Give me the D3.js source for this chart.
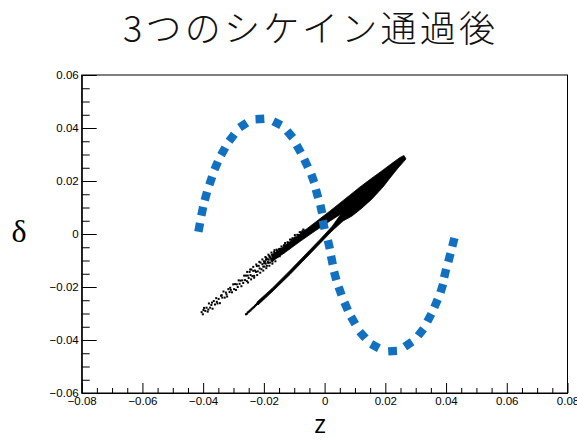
<!DOCTYPE html>
<html>
<head>
<meta charset="utf-8">
<script src="https://cdn.jsdelivr.net/npm/d3@7"></script>
<style>
  body { margin: 0; background: #fff; }
  svg { display: block; }
</style>
</head>
<body>
<svg id="chart" width="577" height="443"></svg>
<script>
// ---- chart data ----
const titleText = "3つのシケイン通過後";
const xLabelText = "z";
const yLabelText = "δ";

const xDomain = [-0.08, 0.08];
const yDomain = [-0.06, 0.06];
const xMajorTicks = [-0.08, -0.06, -0.04, -0.02, 0, 0.02, 0.04, 0.06, 0.08];
const yMajorTicks = [-0.06, -0.04, -0.02, 0, 0.02, 0.04, 0.06];
const xMinorTicks = [-0.075, -0.07, -0.065, -0.055, -0.05, -0.045, -0.035, -0.03, -0.025,
  -0.015, -0.01, -0.005, 0.005, 0.01, 0.015, 0.025, 0.03, 0.035, 0.045, 0.05, 0.055,
  0.065, 0.07, 0.075];
const yMinorTicks = [-0.055, -0.05, -0.045, -0.035, -0.03, -0.025, -0.015, -0.01, -0.005,
  0.005, 0.01, 0.015, 0.025, 0.03, 0.035, 0.045, 0.05, 0.055];

// reference wave (z, δ), one entry per blue marker
const waveMarkers = [
  [-0.0413, 0.0025], [-0.0403, 0.0086], [-0.0391, 0.0143], [-0.0375, 0.0201],
  [-0.0357, 0.0258], [-0.0334, 0.0312], [-0.0306, 0.0363], [-0.0268, 0.0411],
  [-0.0213, 0.0434], [-0.0156, 0.0418], [-0.0114, 0.0376], [-0.0085, 0.0321],
  [-0.0061, 0.0267], [-0.0039, 0.0210], [-0.0025, 0.0152], [-0.0011, 0.0094],
  [-0.0003, 0.0035], [0.0014, -0.0040], [0.0024, -0.0099], [0.0035, -0.0158],
  [0.0051, -0.0215], [0.0071, -0.0273], [0.0094, -0.0326], [0.0125, -0.0381],
  [0.0166, -0.0423], [0.0224, -0.0442], [0.0276, -0.0416], [0.0317, -0.0371],
  [0.0345, -0.0316], [0.0367, -0.0262], [0.0386, -0.0205], [0.0397, -0.0148],
  [0.0411, -0.0089], [0.0424, -0.0031]
];

// outline (z, δ) of the densely populated part of the bunch
const coreOutline = [
  // lower arm, upper edge
  [-0.02227, -0.02566], [-0.01733, -0.02057], [-0.01140, -0.01377], [-0.00646, -0.00792],
  [-0.00152, -0.00208], [0.00244, 0.00283], [0.00540, 0.00755],
  // upper arm, lower edge
  [0.00178, 0.00491], [-0.00316, 0.00113], [-0.00810, -0.00283], [-0.01304, -0.00698],
  [-0.01733, -0.01038],
  // upper arm, upper edge
  [-0.01733, -0.00792], [-0.01304, -0.00434], [-0.00810, 0.00000], [-0.00316, 0.00434],
  [0.00178, 0.00868], [0.00672, 0.01321], [0.01166, 0.01774], [0.01495, 0.02057],
  [0.01924, 0.02415], [0.02253, 0.02698], [0.02484, 0.02887], [0.02615, 0.02962],
  // tip and lower edge of the merged bunch, then lower arm
  [0.02681, 0.02830], [0.02418, 0.02491], [0.02154, 0.02113], [0.01924, 0.01774],
  [0.01561, 0.01321], [0.01232, 0.00981], [0.00903, 0.00679], [0.00606, 0.00491],
  [0.00244, 0.00113], [-0.00152, -0.00358], [-0.00646, -0.00943], [-0.01140, -0.01528],
  [-0.01733, -0.02189], [-0.02194, -0.02679]
];

// sparsely populated particles (z, δ)
const looseParticles = [
  // upper arm, lower-left tail
  [-0.0405, -0.0295], [-0.0401, -0.0303], [-0.0399, -0.0287], [-0.0397, -0.0279],
  [-0.0393, -0.0290], [-0.0389, -0.0278], [-0.0385, -0.0293], [-0.0383, -0.0285],
  [-0.0381, -0.0262], [-0.0377, -0.0278], [-0.0373, -0.0268], [-0.0371, -0.0259],
  [-0.0369, -0.0282], [-0.0365, -0.0253], [-0.0361, -0.0266], [-0.0357, -0.0242],
  [-0.0355, -0.0256], [-0.0353, -0.0262], [-0.0349, -0.0245], [-0.0345, -0.0261],
  [-0.0341, -0.0233], [-0.0339, -0.0231], [-0.0337, -0.0240], [-0.0333, -0.0217],
  [-0.0329, -0.0240], [-0.0325, -0.0221], [-0.0323, -0.0228], [-0.0321, -0.0236],
  [-0.0317, -0.0208], [-0.0313, -0.0219], [-0.0311, -0.0203], [-0.0309, -0.0211],
  [-0.0305, -0.0220], [-0.0301, -0.0190],
  // upper arm, middle
  [-0.0298, -0.0208], [-0.0295, -0.0189], [-0.0292, -0.0211], [-0.0289, -0.0190],
  [-0.0286, -0.0200], [-0.0283, -0.0175], [-0.0280, -0.0188], [-0.0277, -0.0176],
  [-0.0274, -0.0197], [-0.0271, -0.0175], [-0.0268, -0.0185], [-0.0265, -0.0157],
  [-0.0262, -0.0174], [-0.0259, -0.0157], [-0.0256, -0.0178], [-0.0253, -0.0157],
  [-0.0250, -0.0166], [-0.0247, -0.0143], [-0.0244, -0.0155], [-0.0241, -0.0134],
  [-0.0238, -0.0159], [-0.0235, -0.0139], [-0.0232, -0.0158], [-0.0229, -0.0138],
  [-0.0226, -0.0143], [-0.0223, -0.0121], [-0.0220, -0.0141], [-0.0217, -0.0120],
  [-0.0214, -0.0130], [-0.0211, -0.0108], [-0.0208, -0.0133], [-0.0205, -0.0114],
  [-0.0202, -0.0123],
  [-0.0255, -0.0143], [-0.0252, -0.0183], [-0.0245, -0.0134], [-0.0242, -0.0171],
  [-0.0235, -0.0124], [-0.0232, -0.0165], [-0.0225, -0.0115], [-0.0222, -0.0155],
  [-0.0215, -0.0105], [-0.0212, -0.0146], [-0.0205, -0.0096], [-0.0202, -0.0138],
  [-0.0195, -0.0087], [-0.0192, -0.0129], [-0.0185, -0.0078], [-0.0182, -0.0120],
  [-0.0175, -0.0070], [-0.0172, -0.0112], [-0.0165, -0.0061], [-0.0162, -0.0103],
  // upper arm, filling in toward the core
  [-0.0200, -0.0103], [-0.0199, -0.0110], [-0.0198, -0.0123], [-0.0196, -0.0105],
  [-0.0194, -0.0112], [-0.0193, -0.0097], [-0.0192, -0.0090], [-0.0190, -0.0120],
  [-0.0188, -0.0095], [-0.0187, -0.0105], [-0.0186, -0.0109], [-0.0184, -0.0097],
  [-0.0182, -0.0083], [-0.0181, -0.0089], [-0.0180, -0.0108], [-0.0178, -0.0088],
  [-0.0176, -0.0094], [-0.0175, -0.0100], [-0.0174, -0.0078], [-0.0172, -0.0104],
  [-0.0170, -0.0084], [-0.0169, -0.0077], [-0.0168, -0.0092], [-0.0166, -0.0068],
  [-0.0164, -0.0091], [-0.0163, -0.0084], [-0.0162, -0.0072], [-0.0160, -0.0079],
  [-0.0158, -0.0059], [-0.0157, -0.0063], [-0.0156, -0.0087], [-0.0154, -0.0068],
  [-0.0152, -0.0075], [-0.0151, -0.0071], [-0.0150, -0.0057], [-0.0148, -0.0084],
  [-0.0146, -0.0056], [-0.0145, -0.0058], [-0.0144, -0.0066], [-0.0142, -0.0047],
  [-0.0140, -0.0068], [-0.0139, -0.0065], [-0.0138, -0.0055], [-0.0136, -0.0070],
  [-0.0134, -0.0044], [-0.0133, -0.0042], [-0.0132, -0.0057], [-0.0130, -0.0034],
  [-0.0128, -0.0060], [-0.0127, -0.0053], [-0.0126, -0.0042], [-0.0124, -0.0046],
  [-0.0122, -0.0031], [-0.0121, -0.0038], [-0.0120, -0.0056], [-0.0118, -0.0033],
  [-0.0116, -0.0045], [-0.0115, -0.0046], [-0.0114, -0.0021], [-0.0112, -0.0044],
  [-0.0110, -0.0030], [-0.0109, -0.0022], [-0.0108, -0.0034], [-0.0106, -0.0016],
  [-0.0104, -0.0040], [-0.0103, -0.0029], [-0.0102, -0.0017], [-0.0100, -0.0029],
  [-0.0098, -0.0004], [-0.0097, -0.0013], [-0.0096, -0.0031], [-0.0094, -0.0014],
  [-0.0092, -0.0018], [-0.0091, -0.0022], [-0.0090, -0.0003], [-0.0088, -0.0026],
  [-0.0086, -0.0004], [-0.0085, -0.0007], [-0.0084, -0.0017], [-0.0082, 0.0007],
  [-0.0080, -0.0010], [-0.0079, -0.0009], [-0.0078, 0.0006], [-0.0076, -0.0013],
  [-0.0074, 0.0003], [-0.0073, 0.0011], [-0.0072, -0.0002], [-0.0070, 0.0017],
  [-0.0068, -0.0003], [-0.0066, 0.0013],
  // lower arm, thin tail
  [-0.0259, -0.0303], [-0.0256, -0.0301], [-0.0253, -0.0296], [-0.0250, -0.0294],
  [-0.0247, -0.0290], [-0.0244, -0.0288], [-0.0241, -0.0284], [-0.0238, -0.0281],
  [-0.0235, -0.0278], [-0.0232, -0.0275], [-0.0229, -0.0271], [-0.0226, -0.0268],
  [-0.0223, -0.0264], [-0.0220, -0.0262]
];

// ---- layout ----
const width = 577, height = 443;
const plot = { left: 81.7, right: 567.5, top: 75, bottom: 393 };
const waveColor = "#1170c0";

const svg = d3.select("#chart");
const x = d3.scaleLinear().domain(xDomain).range([plot.left, plot.right]);
const y = d3.scaleLinear().domain(yDomain).range([plot.bottom, plot.top]);

// frame
svg.append("rect")
  .attr("x", x(xDomain[0])).attr("y", y(yDomain[1]))
  .attr("width", x(xDomain[1]) - x(xDomain[0]))
  .attr("height", y(yDomain[0]) - y(yDomain[1]))
  .attr("fill", "none").attr("stroke", "#000").attr("stroke-width", 1);

// particle bunch
const outline = d3.line().x(d => x(d[0])).y(d => y(d[1])).curve(d3.curveLinearClosed);
svg.append("path")
  .attr("d", outline(coreOutline))
  .attr("fill", "#000").attr("stroke", "#000").attr("stroke-width", 0.8)
  .attr("stroke-linejoin", "round");

svg.append("g").selectAll("rect")
  .data(looseParticles)
  .join("rect")
  .attr("x", d => x(d[0]) - 1)
  .attr("y", d => y(d[1]) - 1)
  .attr("width", 2).attr("height", 2)
  .attr("fill", "#000");

// reference wave drawn as square dashes following the curve direction
const wavePx = waveMarkers.map(d => [x(d[0]), y(d[1])]);
svg.append("g").selectAll("rect")
  .data(wavePx)
  .join("rect")
  .attr("x", -4.4).attr("y", -4.2)
  .attr("width", 8.8).attr("height", 8.4)
  .attr("fill", waveColor)
  .attr("transform", (d, i) => {
    const a = wavePx[Math.max(0, i - 1)];
    const b = wavePx[Math.min(wavePx.length - 1, i + 1)];
    const ang = Math.atan2(b[1] - a[1], b[0] - a[0]) * 180 / Math.PI;
    return `translate(${d[0]},${d[1]}) rotate(${ang})`;
  });

// axes (ticks point into the frame)
const fmt = v => (Math.abs(v) < 1e-12 ? "0" : d3.format(".2f")(v));
const tickFont = "'Liberation Sans', Arial, Helvetica, sans-serif";

const xAxis = svg.append("g")
  .attr("transform", `translate(0,${plot.bottom})`)
  .call(d3.axisBottom(x).tickValues(xMajorTicks).tickFormat(fmt)
    .tickSize(-10).tickSizeOuter(0).tickPadding(4));
svg.append("g")
  .attr("transform", `translate(0,${plot.bottom})`)
  .call(d3.axisBottom(x).tickValues(xMinorTicks).tickFormat("")
    .tickSize(-5).tickSizeOuter(0))
  .call(g => g.select(".domain").remove());

const yAxis = svg.append("g")
  .attr("transform", `translate(${plot.left},0)`)
  .call(d3.axisLeft(y).tickValues(yMajorTicks).tickFormat(fmt)
    .tickSize(-15).tickSizeOuter(0).tickPadding(3));
svg.append("g")
  .attr("transform", `translate(${plot.left},0)`)
  .call(d3.axisLeft(y).tickValues(yMinorTicks).tickFormat("")
    .tickSize(-8).tickSizeOuter(0))
  .call(g => g.select(".domain").remove());

svg.selectAll(".tick line").attr("stroke", "#000").attr("stroke-width", 1);
svg.selectAll(".domain").attr("stroke", "#000").attr("stroke-width", 1.2);
[xAxis, yAxis].forEach(g => g.selectAll("text")
  .attr("font-family", tickFont).attr("font-size", 11.5).attr("fill", "#000"));

// titles
svg.append("text")
  .attr("x", 123).attr("y", 42)
  .attr("textLength", 372).attr("lengthAdjust", "spacing")
  .attr("font-family", "'Noto Sans CJK JP', 'Noto Sans CJK SC', sans-serif")
  .attr("font-weight", 300)
  .attr("font-size", 36)
  .attr("fill", "#111")
  .text(titleText);

svg.append("text")
  .attr("x", 19).attr("y", 242)
  .attr("text-anchor", "middle")
  .attr("font-family", "'Liberation Serif', 'DejaVu Serif', serif")
  .attr("font-size", 32)
  .attr("fill", "#000")
  .text(yLabelText);

svg.append("text")
  .attr("x", 320).attr("y", 433)
  .attr("text-anchor", "middle")
  .attr("font-family", "'Open Sans', 'Noto Sans', sans-serif")
  .attr("font-size", 25)
  .attr("fill", "#000")
  .text(xLabelText);
</script>
</body>
</html>
